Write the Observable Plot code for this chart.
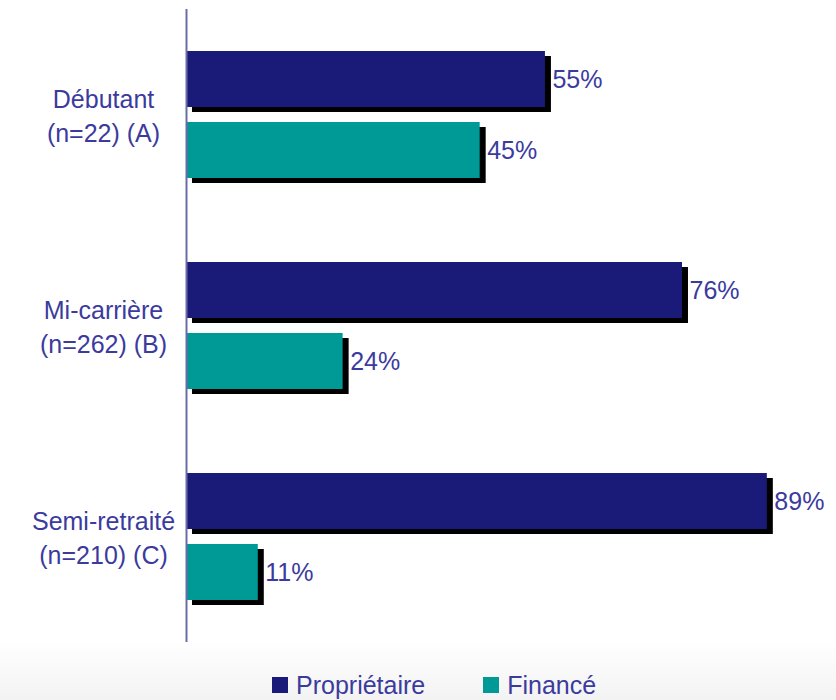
<!DOCTYPE html>
<html>
<head>
<meta charset="utf-8">
<script src="https://cdn.jsdelivr.net/npm/d3@7"></script>
<script src="https://cdn.jsdelivr.net/npm/@observablehq/plot@0.6"></script>
<style>
  html, body { margin: 0; padding: 0; }
  body {
    width: 836px; height: 700px; overflow: hidden;
    font-family: "Liberation Sans", Arial, sans-serif;
    background: linear-gradient(to bottom, #ffffff 0px, #ffffff 640px, #f3f3f3 700px);
  }
  #legend {
    height: 30px; padding-top: 10px; display: flex; align-items: center;
    padding-left: 272px; font-size: 25px; color: #3b3b9e;
  }
  .item { display: flex; align-items: center; margin-right: 58px; }
  .sw { width: 16px; height: 16px; margin-right: 8px; }
</style>
</head>
<body>
<div id="chart"></div>
<div id="legend"></div>
<script>
const groups = ["Débutant\n(n=22) (A)", "Mi-carrière\n(n=262) (B)", "Semi-retraité\n(n=210) (C)"];
const series = ["Propriétaire", "Financé"];
const proprietaire = [55, 76, 89];
const finance = [45, 24, 11];
const colors = ["#1a1a78", "#009a96"];

const data = groups.flatMap((g, i) => [
  {group: g, series: series[0], value: proprietaire[i]},
  {group: g, series: series[1], value: finance[i]}
]);

const textColor = "#3b3b9e";

const chart = Plot.plot({
  width: 836,
  height: 660,
  marginLeft: 186,
  marginRight: 0,
  marginTop: 8,
  marginBottom: 18,
  style: {background: "transparent", fontFamily: "'Liberation Sans', Arial, sans-serif"},
  x: {domain: [0, 99.6], axis: null},
  fy: {domain: groups, padding: 0, axis: null},
  y: {domain: series, paddingInner: 0.21, paddingOuter: 0.58, axis: null},
  color: {domain: series, range: colors},
  marks: [
    Plot.barX(data, {fy: "group", y: "series", x: "value", fill: "black", dx: 6, dy: 5}),
    Plot.barX(data, {fy: "group", y: "series", x: "value", fill: "series"}),
    Plot.text(data, {fy: "group", y: "series", x: "value", text: d => d.value + "%",
      textAnchor: "start", dx: 7, fill: textColor, fontSize: 25}),
    Plot.ruleX([0], {stroke: "#6a6aa8", strokeWidth: 2}),
    Plot.text(groups, {fy: d => d, text: d => d, frameAnchor: "left", dx: -83, dy: -1,
      textAnchor: "middle", lineHeight: 1.38, fill: textColor, fontSize: 25})
  ]
});
document.getElementById("chart").appendChild(chart);

const legend = document.getElementById("legend");
series.forEach((s, i) => {
  const item = document.createElement("div");
  item.className = "item";
  const sw = document.createElement("div");
  sw.className = "sw";
  sw.style.background = colors[i];
  const label = document.createElement("span");
  label.textContent = s;
  item.appendChild(sw);
  item.appendChild(label);
  legend.appendChild(item);
});
</script>
</body>
</html>
